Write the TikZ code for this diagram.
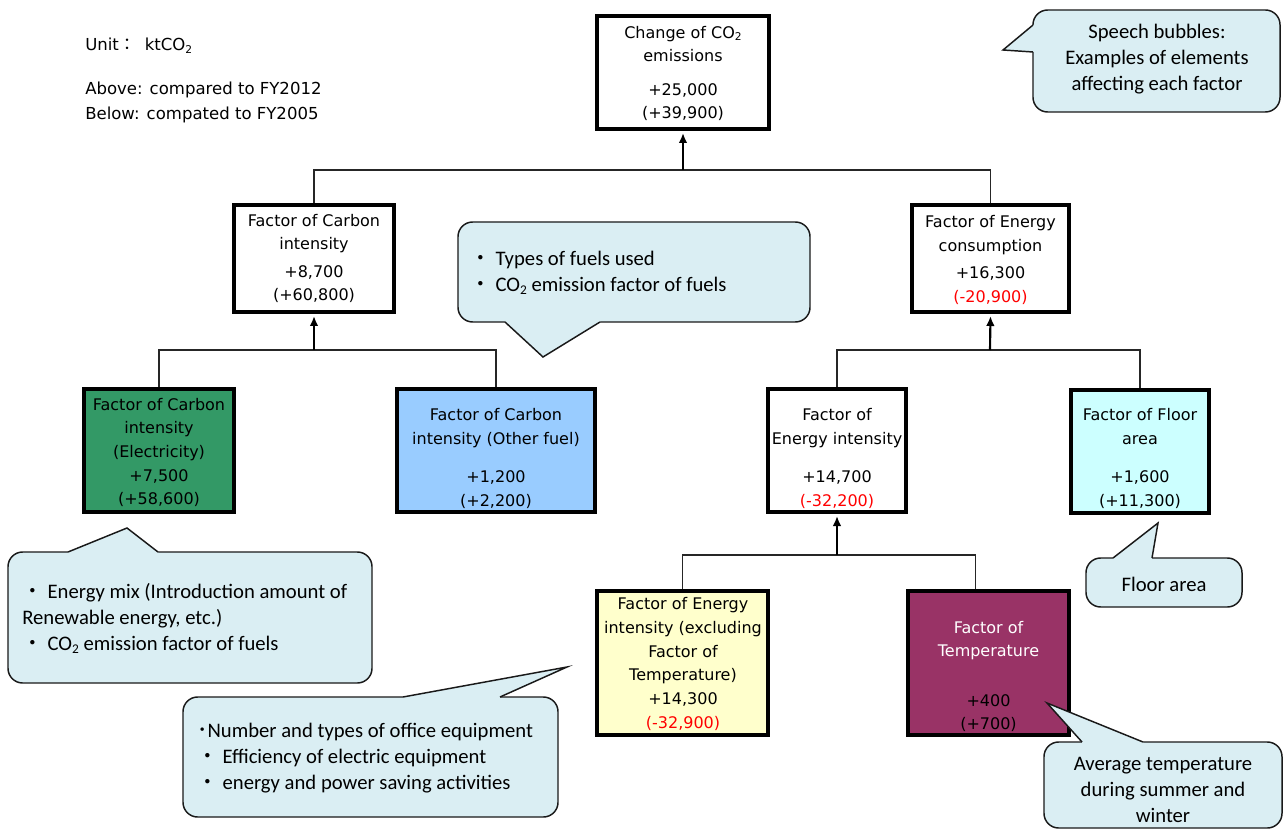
\documentclass[tikz,border=0pt]{standalone}
\usepackage{fontspec}
\setmainfont{DejaVu Sans}
\newfontfamily\callfont{Carlito}
\newfontfamily\cjk{Noto Sans CJK JP}
\usetikzlibrary{arrows.meta,calc}

\definecolor{elecgreen}{HTML}{339966}
\definecolor{fuelblue}{HTML}{99CCFF}
\definecolor{floorcyan}{HTML}{CCFFFF}
\definecolor{paleyellow}{HTML}{FFFFCC}
\definecolor{temppurple}{HTML}{993366}
\definecolor{bubblebg}{HTML}{DAEEF3}

% lowered subscript digit for CO2
\newcommand\lowtwo[1][8pt]{\raisebox{-0.3ex}{\fontsize{#1}{#1}\selectfont 2}}
% full-width Japanese punctuation
\newcommand\jdot{{\cjk ・}}
\newcommand\hjdot{{\cjk ･}}
\newcommand\jcolon{{\cjk ：}}

% rounded speech bubble: body corners, tail base/tip/base, inward offset
\newcommand\bubble[9]{%
  \path[bubble] (#1,#2) rectangle (#3,#4);
  \fill[tailfill] (#5) -- (#6) -- (#7) -- ($(#7)+(#8,#9)$) -- ($(#5)+(#8,#9)$) -- cycle;
  \draw[tailedge] (#5) -- (#6) -- (#7);}

\begin{document}
\begin{tikzpicture}[x=0.75pt, y=-0.75pt,
  box/.style={draw=black, line width=3pt, inner sep=0pt},
  lbl/.style={inner sep=0pt, align=center, font=\fontsize{12}{17.8}\selectfont},
  head/.style={inner sep=0pt, font=\fontsize{12.4}{18.6}\selectfont},
  note/.style={inner sep=0pt, font=\callfont\fontsize{15.5}{19.5}\selectfont},
  link/.style={draw=black!85, line width=1pt},
  rise/.style={draw=black, line width=1.6pt, -{Latex[length=7.5pt,width=6.5pt]}, shorten >=1.5pt},
  bubble/.style={fill=bubblebg, draw=black!90, line width=1.1pt, rounded corners=11pt},
  tailfill/.style={fill=bubblebg},
  tailedge/.style={draw=black!90, line width=1.1pt, line join=miter}]

\useasboundingbox (0,0) rectangle (1284,830);

% ---- header notes
\node[head, anchor=west] (unit) at (85,46) {Unit\jcolon\hspace{7pt}ktCO\lowtwo};
\node[head, anchor=west, align=left] (basis) at (85,102.5)
  {Above: compared to FY2012\\Below: compated to FY2005};

% ---- factor boxes
\node[box, fill=white, minimum width=172*0.75pt, minimum height=113*0.75pt] (total) at (683,72.5) {};
\node[box, fill=white, minimum width=160*0.75pt, minimum height=107*0.75pt] (carbon) at (314,258.5) {};
\node[box, fill=white, minimum width=157*0.75pt, minimum height=107*0.75pt] (energy) at (990.5,258.5) {};
\node[box, fill=elecgreen, minimum width=150*0.75pt, minimum height=123*0.75pt] (elec) at (159,450.5) {};
\node[box, fill=fuelblue, minimum width=198*0.75pt, minimum height=123*0.75pt] (other) at (496,450.5) {};
\node[box, fill=white, minimum width=138*0.75pt, minimum height=123*0.75pt] (eint) at (837,450.5) {};
\node[box, fill=floorcyan, minimum width=138*0.75pt, minimum height=123*0.75pt] (floor) at (1140,451) {};
\node[box, fill=paleyellow, minimum width=171*0.75pt, minimum height=144*0.75pt] (eintx) at (682.5,663) {};
\node[box, fill=temppurple, minimum width=161*0.75pt, minimum height=144*0.75pt] (temp) at (988.5,663) {};

% ---- box texts
\node[lbl] (total-t) at (683,73.5) {Change of CO\lowtwo\\emissions\\[7pt]+25,000\\(+39,900)};
\node[lbl] (carbon-t) at (314,258.5) {Factor of Carbon\\intensity\\[2.5pt]+8,700\\(+60,800)};
\node[lbl] (energy-t) at (990.5,260) {Factor of Energy\\consumption\\[2.5pt]+16,300\\\textcolor{red}{(-20,900)}};
\node[lbl] (elec-t) at (159,452.5) {Factor of Carbon\\intensity\\(Electricity)\\+7,500\\(+58,600)};
\node[lbl] (other-t) at (496,458.5) {Factor of Carbon\\intensity (Other fuel)\\[10.7pt]+1,200\\(+2,200)};
\node[lbl] (eint-t) at (837,458.5) {Factor of\\Energy intensity\\[10.7pt]+14,700\\\textcolor{red}{(-32,200)}};
\node[lbl] (floor-t) at (1140,458.5) {Factor of Floor\\area\\[10.7pt]+1,600\\(+11,300)};
\node[lbl] (eintx-t) at (683,664) {Factor of Energy\\intensity (excluding\\Factor of\\Temperature)\\+14,300\\\textcolor{red}{(-32,900)}};
\node[lbl] (temp-t) at (988.5,676.5) {\textcolor{white}{Factor of}\\\textcolor{white}{Temperature}\\[19pt]+400\\(+700)};

% ---- tree connectors
\coordinate (j0) at (683,170);
\coordinate (j1) at (314,350);
\coordinate (j2) at (990,350);
\coordinate (j3) at (837,555);

\draw[link] (carbon.north) |- (j0) -| (energy.north);
\draw[link] (elec.north) |- (j1) -| (other.north);
\draw[link] (eint.north) |- (j2) -| (floor.north);
\draw[link] (eintx.north) |- (j3) -| ([xshift=-9.75pt]temp.north);

\draw[rise] (j0) -- (total.south);
\draw[rise] (j1) -- (carbon.south);
\draw[rise] (j2) -- (energy.south);
\draw[rise] (j3) -- (eint.south);

% ---- speech bubbles
\bubble{1033}{10}{1280}{112}{1033,25}{1003,50}{1033,52}{4}{0}
\bubble{458}{222}{810}{322}{505,322}{543,357}{600,322}{0}{-4}
\bubble{8}{552}{372}{683}{68,552}{127,528}{158,552}{0}{4}
\bubble{183}{697}{558}{817}{403,697}{567,667}{500,697}{0}{4}
\bubble{1086}{558}{1242}{607}{1113,558}{1158,523}{1152,558}{0}{4}
\bubble{1044}{742}{1282}{828}{1082,742}{1047,703}{1143,742}{0}{4}

\node[note, align=center] (legend-n) at (1157,59.5)
  {Speech bubbles:\\Examples of elements\\affecting each factor};
\node[note, align=left, anchor=west] (fuel-n) at (470,273)
  {\jdot{} Types of fuels used\\\jdot{} CO\lowtwo[10pt] emission factor of fuels};
\node[note, align=left, anchor=west] (elec-n) at (22,618.5)
  {\jdot{} Energy mix (Introduction amount of\\Renewable energy, etc.)\\\jdot{} CO\lowtwo[10pt] emission factor of fuels};
\node[note, align=left, anchor=west] (equip-n) at (197,758)
  {\hjdot Number and types of office equipment\\\jdot{} Efficiency of electric equipment\\\jdot{} energy and power saving activities};
\node[note] (floor-n) at (1164,584) {Floor area};
\node[note, align=center] (temp-n) at (1163,790)
  {Average temperature\\during summer and\\winter};

\end{tikzpicture}
\end{document}
